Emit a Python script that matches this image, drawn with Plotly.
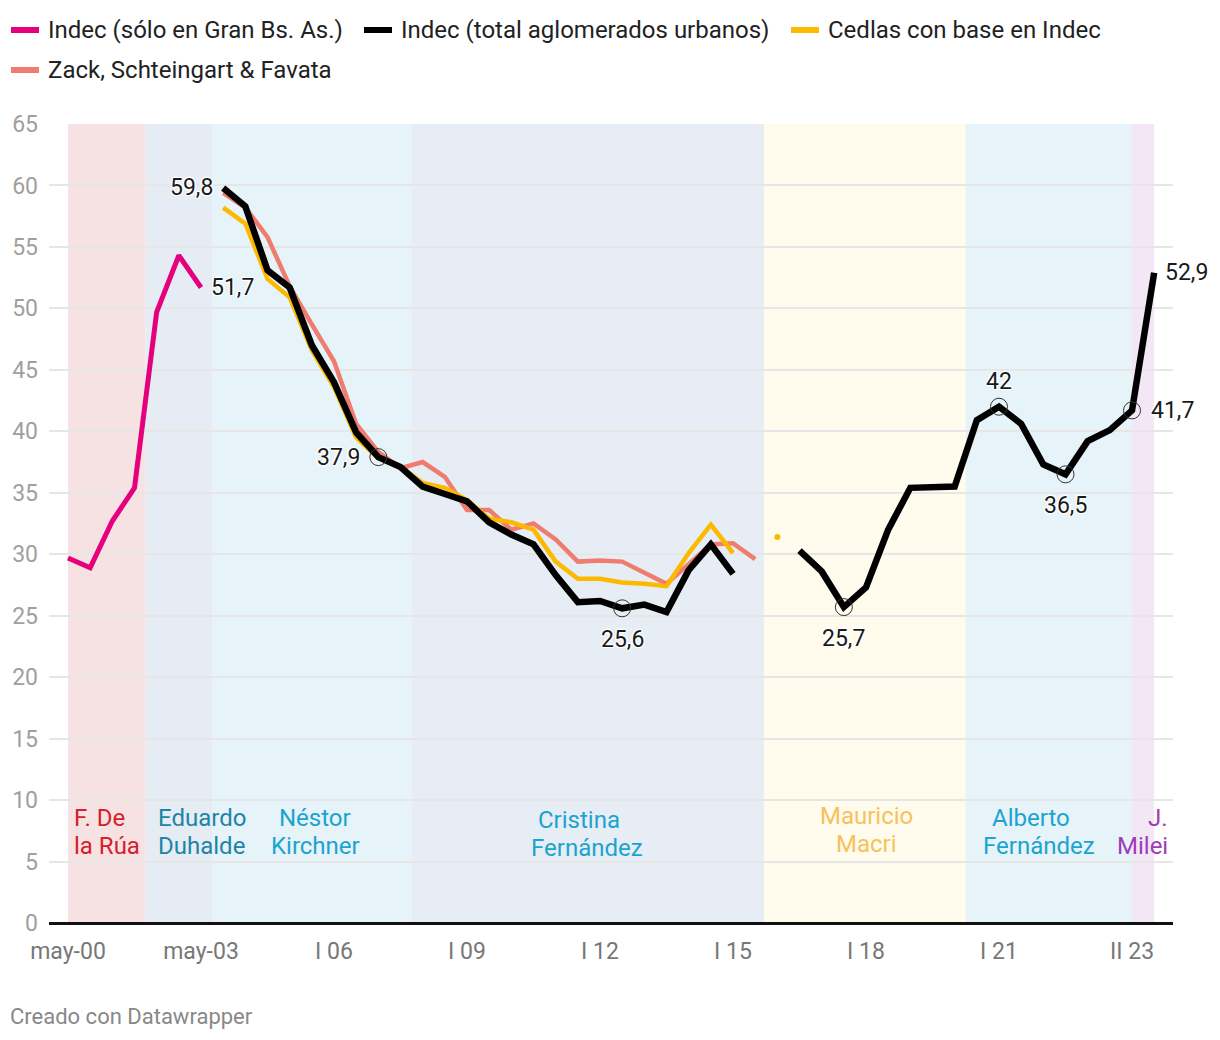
import plotly.graph_objects as go

# ---------------- data ----------------
# x positions are semester indices: 0 = may-00, 6 = may-03, 12 = I 06, ... 48 = II 23
tick_vals = [0, 6, 12, 18, 24, 30, 36, 42, 48]
tick_text = ["may-00", "may-03", "I 06", "I 09", "I 12", "I 15", "I 18", "I 21", "II 23"]

gba_periods = [0, 1, 2, 3, 4, 5, 6]
indec_gba = [29.7, 28.9, 32.7, 35.4, 49.7, 54.3, 51.7]

total_periods = [7, 8, 9, 10, 11, 12, 13, 14, 15, 16, 17, 18, 19, 20, 21, 22, 23, 24, 25, 26, 27, 28, 29, 30,
                 31,
                 33, 34, 35, 36, 37, 38, 40, 41, 42, 43, 44, 45, 46, 47, 48, 49]
indec_total = [59.8, 58.3, 53.1, 51.7, 47.0, 44.0, 39.9, 37.9, 37.1, 35.5, 34.9, 34.3, 32.6, 31.6, 30.8, 28.3,
               26.1, 26.2, 25.6, 25.9, 25.3, 28.7, 30.8, 28.4,
               None,
               30.3, 28.6, 25.7, 27.3, 32.0, 35.4, 35.5, 40.9, 42.0, 40.6, 37.3, 36.5, 39.2, 40.1, 41.7, 52.9]

cedlas_periods = [7, 8, 9, 10, 11, 12, 13, 14, 15, 16, 17, 18, 19, 20, 21, 22, 23, 24, 25, 26, 27, 28, 29, 30, 31, 32]
cedlas = [58.2, 56.9, 52.4, 50.9, 46.6, 43.6, 39.5, 37.8, 37.1, 35.8, 35.4, 34.4, 32.9, 32.6, 32.0, 29.4,
          28.0, 28.0, 27.7, 27.6, 27.4, 30.1, 32.4, 30.1, None, 31.4]

zack_periods = [7, 8, 9, 10, 11, 12, 13, 14, 15, 16, 17, 18, 19, 20, 21, 22, 23, 24, 25, 26, 27, 28, 29, 30, 31]
zack = [59.4, 58.2, 55.8, 51.8, 48.7, 45.7, 40.6, 38.3, 37.0, 37.5, 36.3, 33.6, 33.6, 32.0, 32.5, 31.2,
        29.4, 29.5, 29.4, 28.5, 27.6, 29.2, 30.8, 30.9, 29.6]

highlight_periods = [14, 25, 35, 42, 45, 48]

president_names = [["F. De", "la Rúa"], ["Eduardo", "Duhalde"], ["Néstor", "Kirchner"],
                   ["Cristina", "Fernández"], ["Mauricio", "Macri"], ["Alberto", "Fernández"], ["J.", "Milei"]]
president_start = [0, 3.5, 6.5, 15.5, 31.4, 40.5, 48.0]
president_end = [3.5, 6.5, 15.5, 31.4, 40.5, 48.0, 49.0]

series_names = ["Indec (sólo en Gran Bs. As.)", "Indec (total aglomerados urbanos)",
                "Cedlas con base en Indec", "Zack, Schteingart & Favata"]

# ---------------- styles ----------------
FONT = "Roboto"
C_GBA, C_TOTAL, C_CEDLAS, C_ZACK = "#e5007d", "#000000", "#fcb900", "#f07b6f"
band_fill = ["#f6e2e2", "#e5ecf3", "#e6f3f9", "#e6edf4", "#fffcee", "#e6f3f9", "#f3e7f6"]
band_text = ["#d3222a", "#1e84a8", "#1ba4cf", "#1ba4cf", "#f7c15c", "#1ba4cf", "#a03bb9"]

OFF = 8  # page body margin
PAGE_W, PAGE_H = 1220, 1040
W_, H_ = PAGE_W - 2 * OFF, PAGE_H - 2 * OFF
# plot area in page pixels
L, R, T, B = 49, 1173, 124, 923
X0_PX, STEP_PX = 68, 22.167  # page px of period 0 and px per period
PAD = 2  # inner padding of annotation boxes


def px(x):
    return (x - L) / (R - L)


def py(y):
    return (B - y) / (B - T)


fig = go.Figure()

fig.add_trace(go.Scatter(x=zack_periods, y=zack, mode="lines", line=dict(color=C_ZACK, width=4.5),
                         name=series_names[3], showlegend=False, hoverinfo="skip"))
fig.add_trace(go.Scatter(x=cedlas_periods, y=cedlas, mode="lines", line=dict(color=C_CEDLAS, width=4.5),
                         name=series_names[2], showlegend=False, hoverinfo="skip"))
# isolated points of Cedlas (no neighbours) shown as dots
iso_x, iso_y = [], []
for i, v in enumerate(cedlas):
    if v is None:
        continue
    prev_ok = i > 0 and cedlas[i - 1] is not None
    next_ok = i < len(cedlas) - 1 and cedlas[i + 1] is not None
    if not prev_ok and not next_ok:
        iso_x.append(cedlas_periods[i])
        iso_y.append(v)
fig.add_trace(go.Scatter(x=iso_x, y=iso_y, mode="markers", marker=dict(color=C_CEDLAS, size=6),
                         showlegend=False, hoverinfo="skip"))
fig.add_trace(go.Scatter(x=gba_periods, y=indec_gba, mode="lines", line=dict(color=C_GBA, width=5),
                         name=series_names[0], showlegend=False, hoverinfo="skip"))
fig.add_trace(go.Scatter(x=total_periods, y=indec_total, mode="lines", line=dict(color=C_TOTAL, width=6.5),
                         name=series_names[1], showlegend=False, hoverinfo="skip", connectgaps=False))

hx = [p for p in highlight_periods]
hy = [indec_total[total_periods.index(p)] for p in highlight_periods]
fig.add_trace(go.Scatter(x=hx, y=hy, mode="markers",
                         marker=dict(symbol="circle-open", size=17, color="#333333", line=dict(width=1)),
                         showlegend=False, hoverinfo="skip"))

shapes = []
for s, e, c in zip(president_start, president_end, band_fill):
    shapes.append(dict(type="rect", xref="x", yref="y", x0=s, x1=e, y0=0, y1=65,
                       fillcolor=c, line=dict(width=0), layer="below"))

annotations = []
HALO = "-1px -1px 1px #fff, 1px -1px 1px #fff, -1px 1px 1px #fff, 1px 1px 1px #fff, 0 0 3px #fff"


def ann_px(text, x, y, xanchor="left", color="#222", size=24, shadow=None):
    f = dict(family=FONT, size=size, color=color)
    if shadow:
        f["shadow"] = shadow
    if xanchor == "left":
        x -= PAD
    elif xanchor == "right":
        x += PAD
    annotations.append(dict(text=text, xref="paper", yref="paper", x=px(x), y=py(y),
                            xanchor=xanchor, yanchor="middle", showarrow=False, font=f))


# legend (manual)
legend_pos = [(10, 30), (363, 30), (790, 30), (10, 70)]
legend_colors = [C_GBA, C_TOTAL, C_CEDLAS, C_ZACK]
for (lx, ly), name, col in zip(legend_pos, series_names, legend_colors):
    shapes.append(dict(type="line", xref="paper", yref="paper", x0=px(lx + 1), x1=px(lx + 29),
                       y0=py(ly), y1=py(ly), line=dict(color=col, width=6)))
    ann_px(name, lx + 38, ly, "left", "#222", 24)

# president labels
label_px = [(74, "left", 818), (158, "left", 818), (315, "center", 818), (None, "center", 820),
            (866, "center", 816), (None, "center", 818), (1168, "right", 818)]
special_centers = {3: (579, 587), 5: (1031, 1039)}
for i, (names, col) in enumerate(zip(president_names, band_text)):
    x, anchor, y0 = label_px[i]
    for j, line_txt in enumerate(names):
        xx = special_centers[i][j] if i in special_centers else x
        ann_px(line_txt, xx, y0 + 28 * j, anchor, col, 24)

# value labels
value_labels = [(7, 59.8, "right", -8, 0), (6, 51.7, "left", 8, 0), (14, 37.9, "right", -16, 0),
                (25, 25.6, "center", 0, -31), (35, 25.7, "center", 0, -31), (42, 42.0, "center", 0, 25),
                (45, 36.5, "center", 0, -31), (48, 41.7, "left", 17, 0), (49, 52.9, "left", 9, 0)]
for xv, yv, anchor, xs, ys in value_labels:
    annotations.append(dict(text=f"{yv:g}".replace(".", ","), x=xv, y=yv, xref="x", yref="y",
                            xanchor=anchor, yanchor="middle", xshift=xs, yshift=ys, showarrow=False,
                            font=dict(family=FONT, size=23, color="#1a1a1a", shadow=HALO)))

# footer
ann_px("Creado con Datawrapper", 10, 1016, "left", "#888888", 22)

fig.update_layout(
    width=W_, height=H_,
    margin=dict(l=L - OFF, r=W_ - (R - OFF), t=T - OFF, b=H_ - (B - OFF), pad=0, autoexpand=False),
    paper_bgcolor="white", plot_bgcolor="white",
    font=dict(family=FONT),
    showlegend=False,
    hovermode=False,
    shapes=shapes,
    annotations=annotations,
    xaxis=dict(range=[(L - X0_PX) / STEP_PX, (R - X0_PX) / STEP_PX], tickvals=tick_vals, ticktext=tick_text,
               showgrid=False, zeroline=False, showline=False, ticks="", automargin=False,
               tickfont=dict(family=FONT, size=23, color="#777777"), ticklabelstandoff=12),
    yaxis=dict(range=[0, 65], dtick=5, tick0=0, showgrid=True, gridcolor="#e6e6e6", gridwidth=2,
               zeroline=True, zerolinecolor="#111111", zerolinewidth=3, showline=False, ticks="",
               automargin=False,
               tickfont=dict(family=FONT, size=23, color="#a0a0a0"), ticklabelstandoff=10),
)

fig.write_html("out.html")
